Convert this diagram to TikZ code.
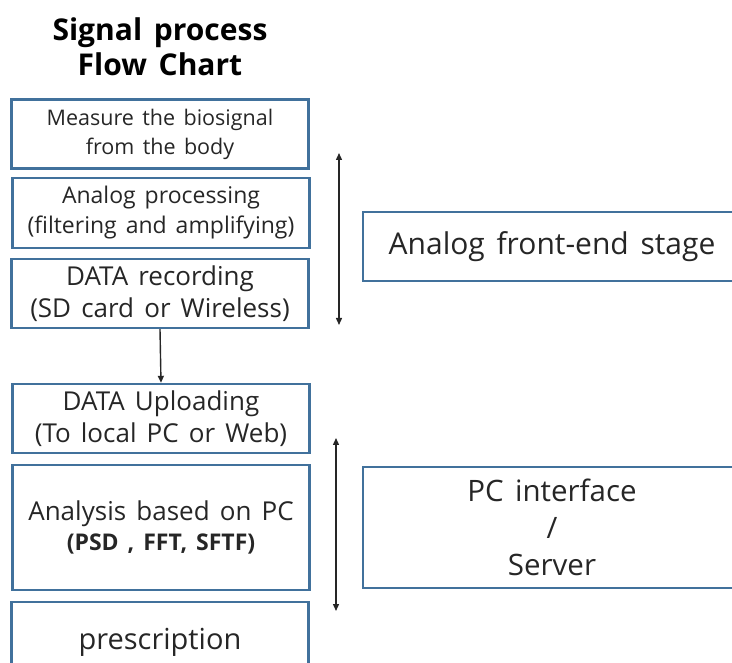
\documentclass[tikz,border=0pt]{standalone}
\usepackage{fontspec}
\setmainfont{Open Sans}[WordSpace=1.5]
\usetikzlibrary{arrows.meta, positioning}
\definecolor{cFrame}{RGB}{65,113,156}
\definecolor{cInk}{RGB}{38,38,38}
\tikzset{
	stage/.style   ={rectangle, draw=cFrame, line width=2.4pt, minimum width=297pt, align=center, inner sep=0pt, text=cInk},
	side/.style    ={rectangle, draw=cFrame, line width=2.4pt, minimum width=378pt, align=center, inner sep=0pt, text=cInk},
	flowarrow/.style={-{Triangle[length=7pt, width=6pt]}, line width=1.4pt, cInk},
	spanarrow/.style={{Triangle[length=7pt, width=6pt]}-{Triangle[length=7pt, width=6pt]}, line width=1.4pt, cInk},
}

\begin{document}
\begin{tikzpicture}[x=1pt, y=-1pt]
	\clip (0,0) rectangle (732,663);
	% title
	\node[font=\bfseries\fontsize{30}{35}\selectfont, align=center, text=black] (title) at (160,47) {Signal process\\ Flow Chart};
	% analog part
	\node[stage, minimum height=69pt, font=\fontsize{21.5}{29}\selectfont] (measure) at (160,134) {Measure the biosignal\\ from the body};
	\node[stage, minimum height=70pt, font=\fontsize{23}{30}\selectfont] (analog) at (161,213) {Analog processing\\ (filtering and amplifying)};
	\node[stage, minimum height=69pt, font=\fontsize{26}{32}\selectfont] (record) at (160,293.5) {DATA recording\\ (SD card or Wireless)};
	% pc part
	\node[stage, minimum height=69pt, font=\fontsize{26}{32}\selectfont] (upload) at (161,418.5) {DATA Uploading\\ (To local PC or Web)};
	\node[stage, minimum height=125pt, font=\fontsize{26}{30}\selectfont] (analysis) at (161,527.5) {Analysis based on PC\\ {\bfseries\fontsize{23}{30}\selectfont (PSD , FFT, SFTF)}};
	\node[stage, minimum height=80pt, font=\fontsize{29}{34}\selectfont] (presc) at (160,642) {prescription};
	\draw[flowarrow] (record.south) -- (upload.north);
	% stage labels
	\node[side, minimum height=69pt, font=\fontsize{30}{37}\selectfont] (afe) at (552,246.5) {Analog front-end stage};
	\node[side, minimum height=121pt, font=\fontsize{29.5}{37}\selectfont] (pcif) at (552,527.5) {PC interface\\ /\\ Server};
	\coordinate (afeTop) at (339,153);
	\coordinate (afeBot) at (339,325);
	\coordinate (pcTop) at (336,438);
	\coordinate (pcBot) at (336,611);
	\draw[spanarrow] (afeTop) -- (afeBot);
	\draw[spanarrow] (pcTop) -- (pcBot);
\end{tikzpicture}
\end{document}
